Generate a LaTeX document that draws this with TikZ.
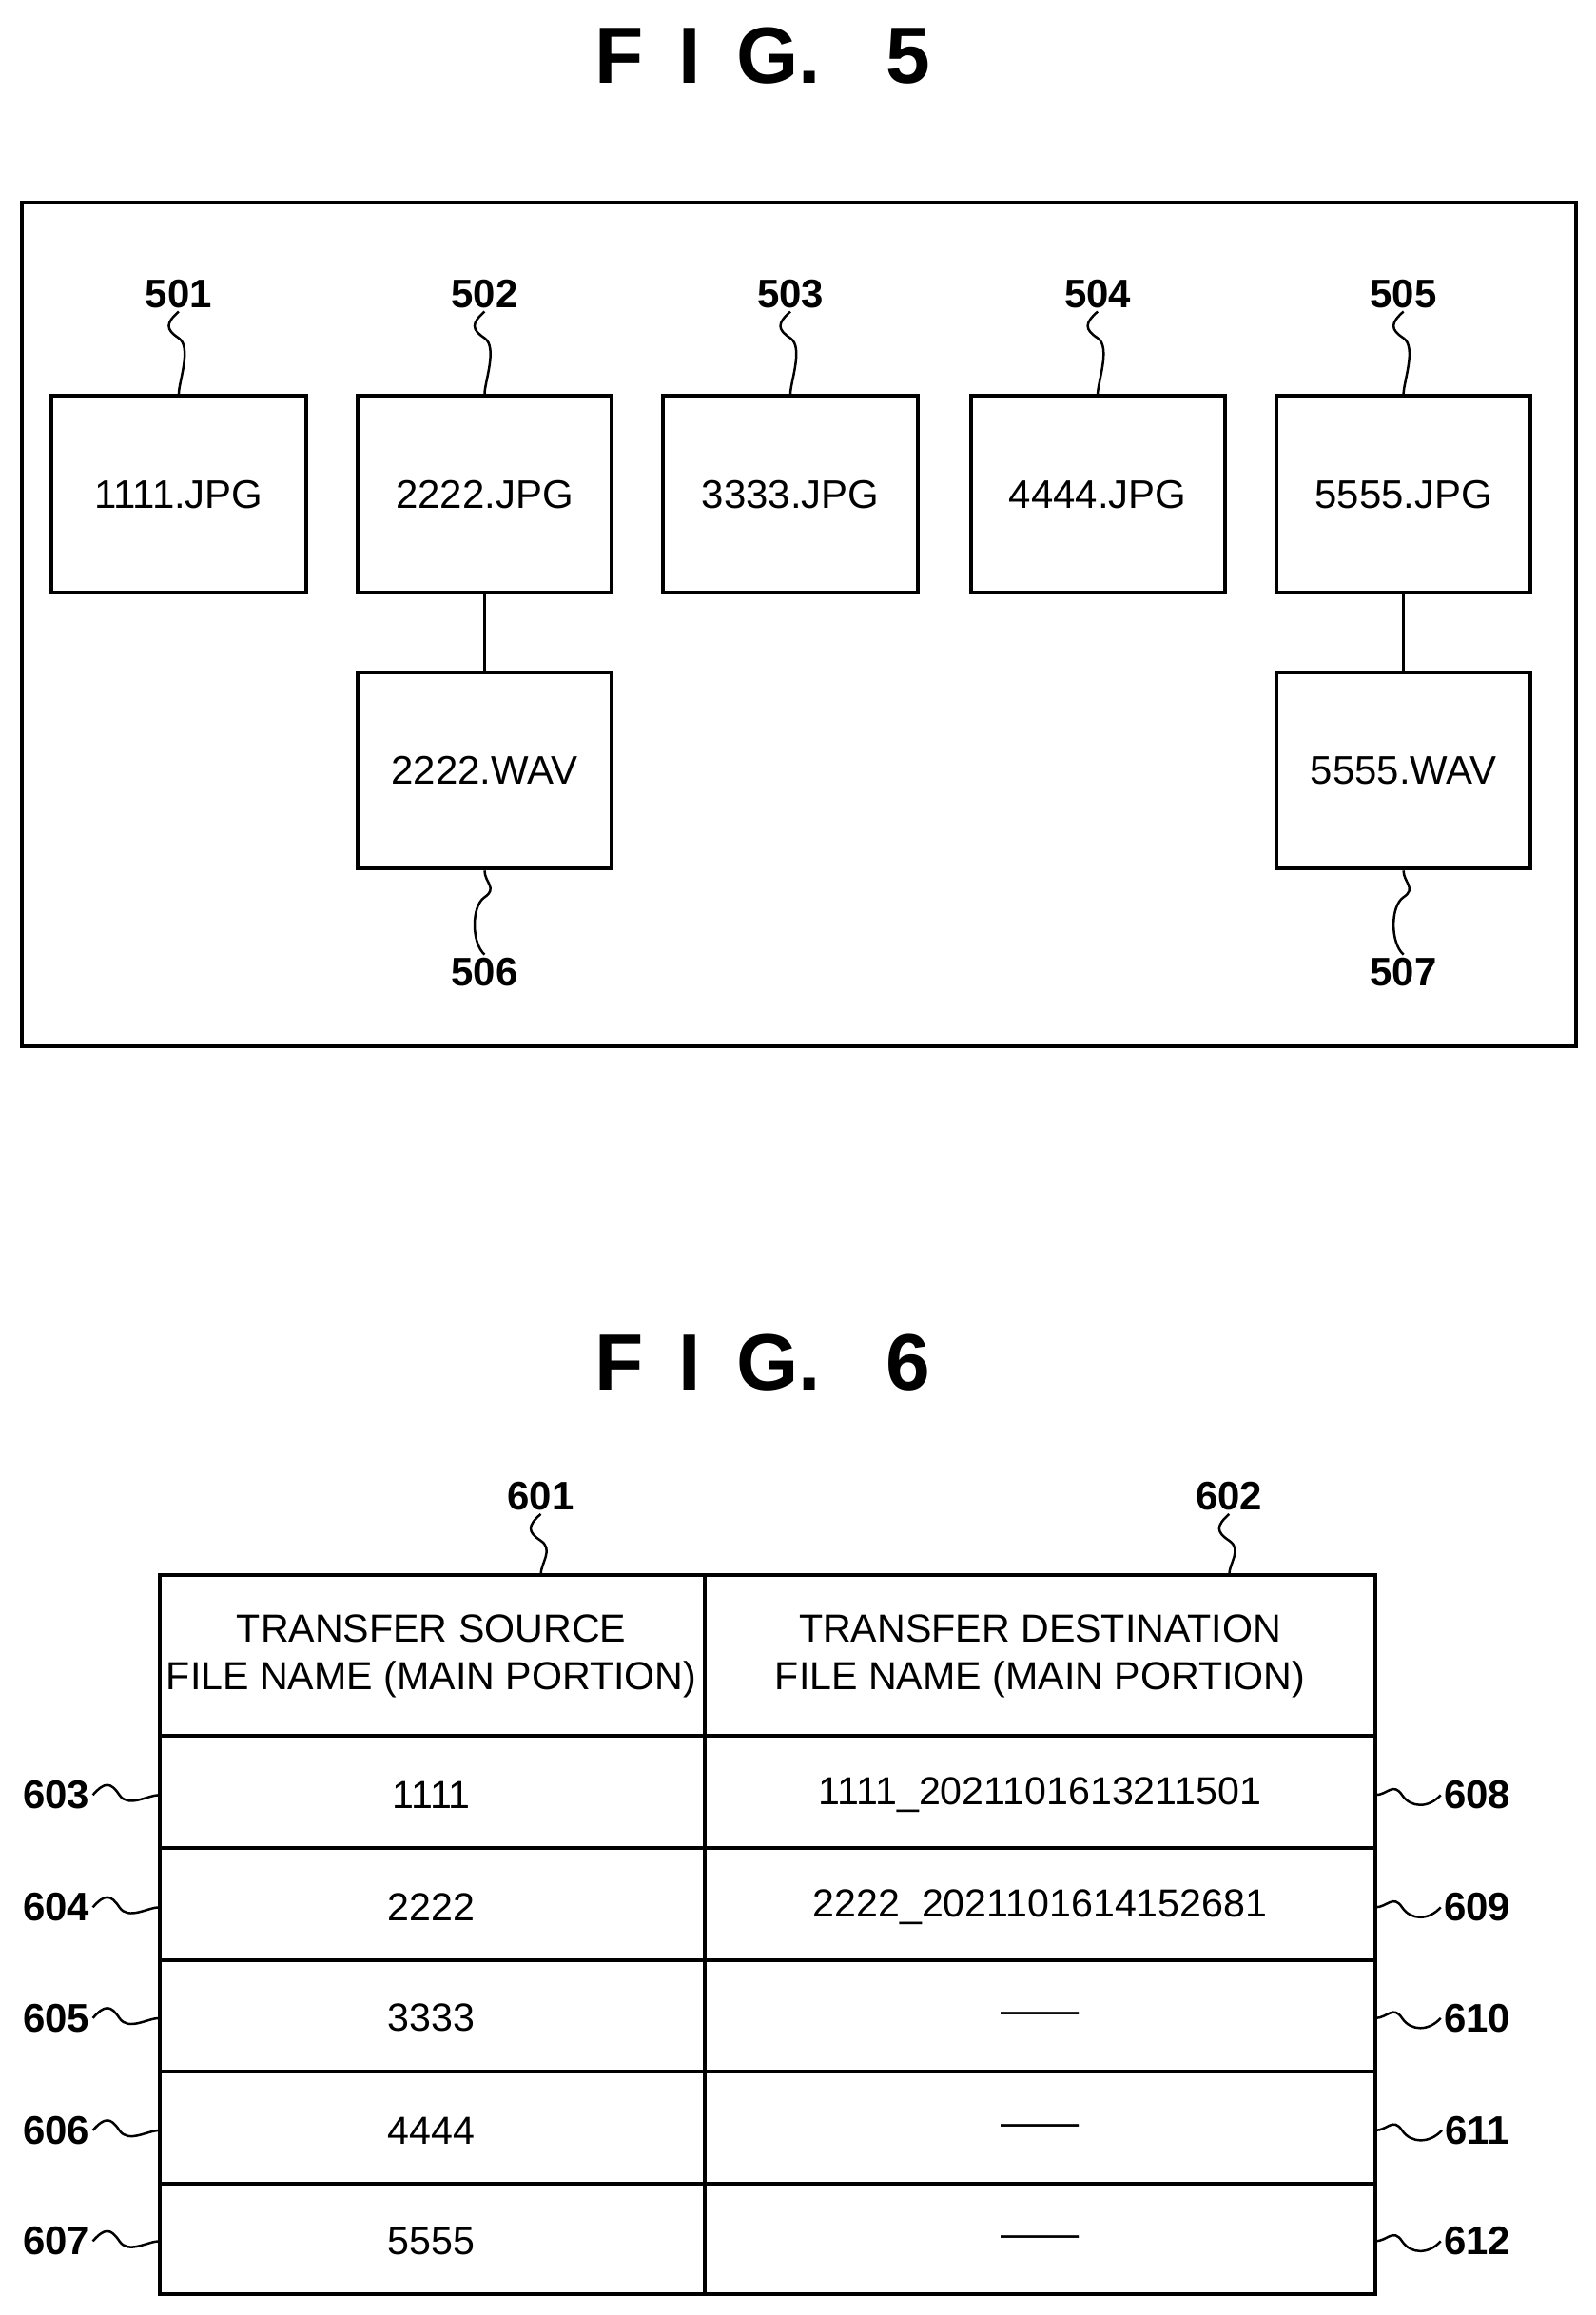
\documentclass[tikz,border=0pt]{standalone}
\usepackage{fontspec}
\setmainfont{Liberation Sans}
\begin{document}
\begin{tikzpicture}[x=1pt,y=-1pt,line width=2.6pt,
  fbox/.style={draw,minimum width=172,minimum height=133,inner sep=0,font=\fontsize{27}{30}\selectfont},
  lab/.style={font=\fontsize{27}{30}\selectfont\bfseries,inner sep=1},
  cell/.style={font=\fontsize{26.5}{32}\selectfont,align=center,inner sep=0},
  ttl/.style={font=\fontsize{54}{56}\selectfont\bfseries}]
\useasboundingbox (0,0) rectangle (1080,1567);
\node[ttl] (t5) at (516,38) {F\hspace{24pt}I\hspace{24pt}G.\hspace{44pt}5};
\draw (15,137) rectangle (1067,708);
\foreach \n/\x/\t in {501/121/1111,502/328/2222,503/535/3333,504/743/4444,505/950/5555}{
  \node[fbox] (b\n) at (\x,334.5) {\t.JPG};
  \node[lab] (l\n) at (\x,199) {\n};
  \draw[line width=1.6pt] (l\n.south) .. controls +(-9,8) and +(-9,-6) .. +(0,18)
     .. controls +(9,6) and +(0,-8) .. (b\n.north);
}
\node[fbox] (b506) at (328,521.5) {2222.WAV};
\node[fbox] (b507) at (950,521.5) {5555.WAV};
\draw[line width=1.6pt] (b502) -- (b506);
\draw[line width=1.6pt] (b505) -- (b507);
\foreach \n/\x in {506/328,507/950}{
  \node[lab] (l\n) at (\x,658) {\n};
  \draw[line width=1.6pt] (b\n.south) .. controls +(0,8) and +(9,-6) .. +(0,18)
     .. controls +(-9,6) and +(-9,-8) .. (l\n.north);
}
\node[ttl] (t6) at (516,922) {F\hspace{24pt}I\hspace{24pt}G.\hspace{44pt}6};
\draw (108,1066) rectangle (931,1553);
\draw (477,1066) -- (477,1553);
\foreach \y in {1175,1251,1327,1402,1478} \draw (108,\y) -- (931,\y);
\node[cell] (h1) at (292,1121) {TRANSFER SOURCE\\FILE NAME (MAIN PORTION)};
\node[cell] (h2) at (704,1121) {TRANSFER DESTINATION\\FILE NAME (MAIN PORTION)};
\node[lab] (l601) at (366,1013) {601};
\node[lab] (l602) at (832,1013) {602};
\foreach \n/\x in {601/366,602/832}{
  \coordinate (c\n) at (\x,1066);
  \draw[line width=1.6pt] (l\n.south) .. controls +(-9,8) and +(-9,-6) .. +(0,18)
     .. controls +(9,6) and +(0,-8) .. (c\n);
}
\foreach \i/\y/\s/\d in {3/1215/1111/1111\_2021101613211501,4/1291/2222/2222\_2021101614152681,5/1366/3333/------,6/1442/4444/------,7/1517/5555/------}{
  \node[cell] (s\i) at (292,\y) {\s};
  \node[cell] (d\i) at (704,\y) {\d};
  \node[lab] (ll\i) at (38,\y) {60\i};
  \coordinate (lc\i) at (108,\y);
  \draw[line width=1.6pt] (ll\i.east) .. controls +(8,-9) and +(-6,-9) .. +(18,0)
     .. controls +(6,9) and +(-8,0) .. (lc\i);
}
\foreach \i/\y/\n in {3/1215/608,4/1291/609,5/1366/610,6/1442/611,7/1517/612}{
  \node[lab] (r\i) at (1000,\y) {\n};
  \coordinate (rc\i) at (931,\y);
  \draw[line width=1.6pt] (rc\i) .. controls +(8,0) and +(-6,-9) .. +(18,0)
     .. controls +(6,9) and +(-8,9) .. (r\i.west);
}
\end{tikzpicture}
\end{document}
